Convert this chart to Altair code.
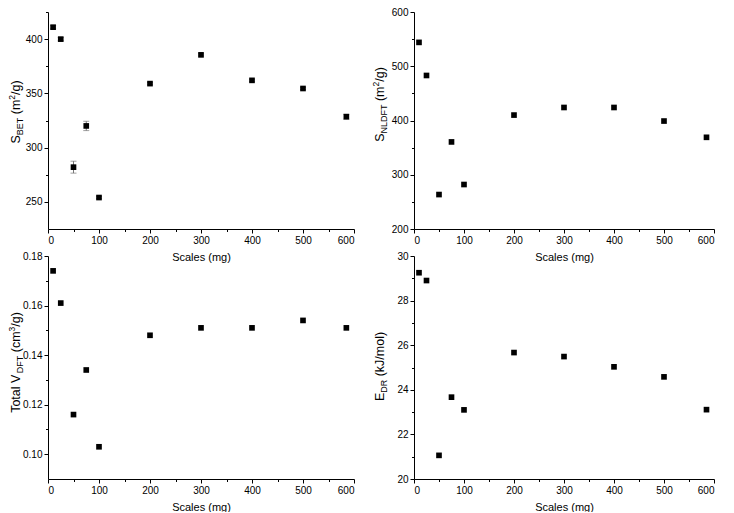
import altair as alt
import pandas as pd

# ---------------- data ----------------
scales = [10, 25, 50, 75, 100, 200, 300, 400, 500, 585]
s_bet = [411, 400, 282, 320, 254, 359, 385.5, 362, 354.5, 328.5]
s_bet_err = [1.5, 1.5, 5.5, 4.3, 1.0, 1.0, 1.0, 1.0, 1.0, 2.3]
s_nldft = [544, 483, 263.5, 360.5, 282, 410, 424, 424, 399, 369]
v_dft = [0.174, 0.161, 0.116, 0.134, 0.103, 0.148, 0.151, 0.151, 0.154, 0.151]
e_dr = [29.25, 28.9, 21.06, 23.67, 23.1, 25.67, 25.49, 25.03, 24.58, 23.11]

x_major = [0, 100, 200, 300, 400, 500, 600]
x_minor = [50, 150, 250, 350, 450, 550]

FONT = "Liberation Sans"
MAIN, SUB, SUP = 12.5, 9, 8.5

# approximate Arial advance widths (em)
W = {"S": .667, "B": .667, "E": .667, "T": .611, "N": .722, "L": .556, "D": .722,
     "F": .611, "R": .722, "V": .667, " ": .278, "(": .333, ")": .333, "m": .833,
     "/": .278, "g": .556, "c": .5, "k": .5, "J": .5, "o": .556, "l": .222,
     "t": .278, "a": .556, "2": .556, "3": .556}


def text_width(s, size):
    return sum(W.get(ch, .556) for ch in s) * size


def title_layers(pieces, tx, tcenter):
    sizes = {"main": (MAIN, 0), "sub": (SUB, 3), "sup": (SUP, -5)}
    total = sum(text_width(t, sizes[k][0]) for t, k in pieces)
    start = tcenter + total / 2
    layers = []
    off = 0.0
    one = pd.DataFrame({"k": [0]})
    for t, k in pieces:
        size, dy = sizes[k]
        txt = t
        if txt.startswith(" "):
            off += text_width(" ", size)
            txt = txt.lstrip(" ")
        layers.append(
            alt.Chart(one).mark_text(
                angle=270, align="left", baseline="alphabetic", font=FONT,
                fontSize=size, color="black", dx=off, dy=dy
            ).encode(x=alt.value(tx), y=alt.value(start), text=alt.value(txt))
        )
        off += text_width(txt, size)
    return layers


def panel(values, ydom, ymajor, yminor, yfmt, pieces, tx, tcenter, w, h, err=None):
    df = pd.DataFrame({"x": scales, "y": values})
    xs = alt.Scale(domain=[0, 600], nice=False, zero=False)
    ys = alt.Scale(domain=ydom, nice=False, zero=False)
    layers = []
    if err is not None:
        df["lo"] = [v - e for v, e in zip(values, err)]
        df["hi"] = [v + e for v, e in zip(values, err)]
        eb = alt.Chart(df)
        layers.append(eb.mark_rule(color="#777", strokeWidth=1).encode(
            x=alt.X("x:Q", scale=xs, axis=None),
            y=alt.Y("lo:Q", scale=ys, axis=None), y2="hi:Q"))
        for col in ("lo", "hi"):
            layers.append(eb.mark_tick(color="#777", size=6, thickness=1,
                                       orient="horizontal").encode(
                x=alt.X("x:Q", scale=xs, axis=None),
                y=alt.Y(f"{col}:Q", scale=ys, axis=None)))
    base = alt.Chart(df)
    pts = base.mark_square(size=32, color="black", opacity=1).encode(
        x=alt.X("x:Q", scale=xs,
                axis=alt.Axis(values=x_major, format="d", title="Scales (mg)", orient="bottom")),
        y=alt.Y("y:Q", scale=ys,
                axis=alt.Axis(values=ymajor, format=yfmt, title=None, orient="left")),
    )
    minor = base.mark_point(opacity=0).encode(
        x=alt.X("x:Q", scale=xs,
                axis=alt.Axis(values=x_minor, labels=False, domain=False, tickSize=2.5,
                              title=None, orient="bottom")),
        y=alt.Y("y:Q", scale=ys,
                axis=alt.Axis(values=yminor, labels=False, domain=False, tickSize=2.5,
                              title=None, orient="left")),
    )
    layers += [pts, minor]
    layers += title_layers(pieces, tx, tcenter)
    return alt.layer(*layers).resolve_axis(x="independent", y="independent").properties(
        width=w, height=h)


LW, RW, TH, BH = 306, 300, 217, 223

p1 = panel(s_bet, [225, 425], [250, 300, 350, 400], [275, 325, 375, 425], "d",
           [("S", "main"), ("BET", "sub"), (" (m", "main"), ("2", "sup"), ("/g)", "main")],
           -28, 100, LW, TH, err=s_bet_err)
p2 = panel(s_nldft, [200, 600], [200, 300, 400, 500, 600], [250, 350, 450, 550], "d",
           [("S", "main"), ("NLDFT", "sub"), (" (m", "main"), ("2", "sup"), ("/g)", "main")],
           -30, 92.5, RW, TH)
p3 = panel(v_dft, [0.09, 0.18], [0.10, 0.12, 0.14, 0.16, 0.18], [0.11, 0.13, 0.15, 0.17], ".2f",
           [("Total V", "main"), ("DFT", "sub"), (" (cm", "main"), ("3", "sup"), ("/g)", "main")],
           -28, 106.5, LW, BH)
p4 = panel(e_dr, [20, 30], [20, 22, 24, 26, 28, 30], [21, 23, 25, 27, 29], "d",
           [("E", "main"), ("DR", "sub"), (" (kJ/mol)", "main")],
           -30, 110.5, RW, BH)

chart = alt.concat(p1, p2, p3, p4, columns=2, spacing={"row": 27, "column": 60},
                   bounds="flush").properties(
    padding={"left": 0, "top": -1, "right": 0, "bottom": 0},
    background="white",
).configure_axis(
    labelFont=FONT, labelFontSize=10, labelColor="black", labelPadding=2,
    titleFont=FONT, titleFontSize=11, titleColor="black", titleFontWeight="normal",
    titlePadding=6, domainColor="black", tickColor="black", tickSize=4, grid=False,
).configure_view(stroke=None)

chart.save("out.html", embed_options={"renderer": "svg", "actions": False})
